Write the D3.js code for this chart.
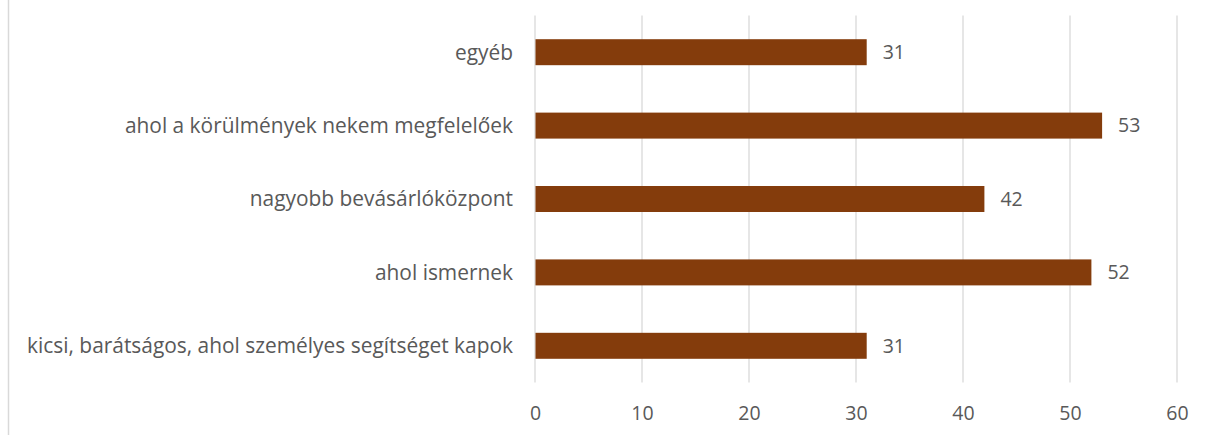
<!DOCTYPE html>
<html><head><meta charset="utf-8">
<script src="https://cdn.jsdelivr.net/npm/d3@7"></script>
<style>
html,body{margin:0;padding:0;background:#fff;}
svg{display:block;}
text{font-family:"Open Sans","Noto Sans",sans-serif;fill:#595959;}
</style></head>
<body>
<svg id="chart" width="1208" height="435"></svg>
<script>
const categories = ["egyéb","ahol a körülmények nekem megfelelőek","nagyobb bevásárlóközpont","ahol ismernek","kicsi, barátságos, ahol személyes segítséget kapok"];
const values = [31,53,42,52,31];
const tickValues = [0,10,20,30,40,50,60];

const svg = d3.select("#chart");
const x = d3.scaleLinear().domain([0,60]).range([535,1177]);
const y = d3.scaleBand().domain(categories).range([15.5,382.5]).paddingInner(0.646).paddingOuter(0.323);

svg.append("line").attr("x1",8.5).attr("x2",8.5).attr("y1",0).attr("y2",435)
  .attr("stroke","#d9d9d9").attr("stroke-width",1.5);

svg.append("g").selectAll("line").data(tickValues).join("line")
  .attr("x1",d=>x(d)).attr("x2",d=>x(d)).attr("y1",15.5).attr("y2",382.5)
  .attr("stroke","#d9d9d9").attr("stroke-width",1.3);

svg.append("g").selectAll("rect").data(values).join("rect")
  .attr("x",x(0)+0.5).attr("y",(d,i)=>y(categories[i]))
  .attr("width",d=>x(d)-x(0)-0.5).attr("height",y.bandwidth())
  .attr("fill","#843c0c");

svg.append("g").selectAll("text").data(values).join("text")
  .attr("x",d=>x(d)+16).attr("y",(d,i)=>y(categories[i])+y.bandwidth()/2)
  .attr("dy","0.35em").attr("font-size",19.5).text(d=>d);

svg.append("g").selectAll("text").data(categories).join("text")
  .attr("x",513).attr("y",d=>y(d)+y.bandwidth()/2)
  .attr("dy","0.35em").attr("text-anchor","end").attr("font-size",20.9).text(d=>d);

const ax = d3.axisBottom(x).tickValues(tickValues).tickSize(0).tickPadding(0);
const g = svg.append("g").attr("transform","translate(0,413)").call(ax);
g.select(".domain").remove();
g.selectAll("text").attr("font-size",19.5).attr("dy","0.35em").attr("fill","#595959")
  .style("font-family",'"Open Sans","Noto Sans",sans-serif');
</script>
</body></html>
